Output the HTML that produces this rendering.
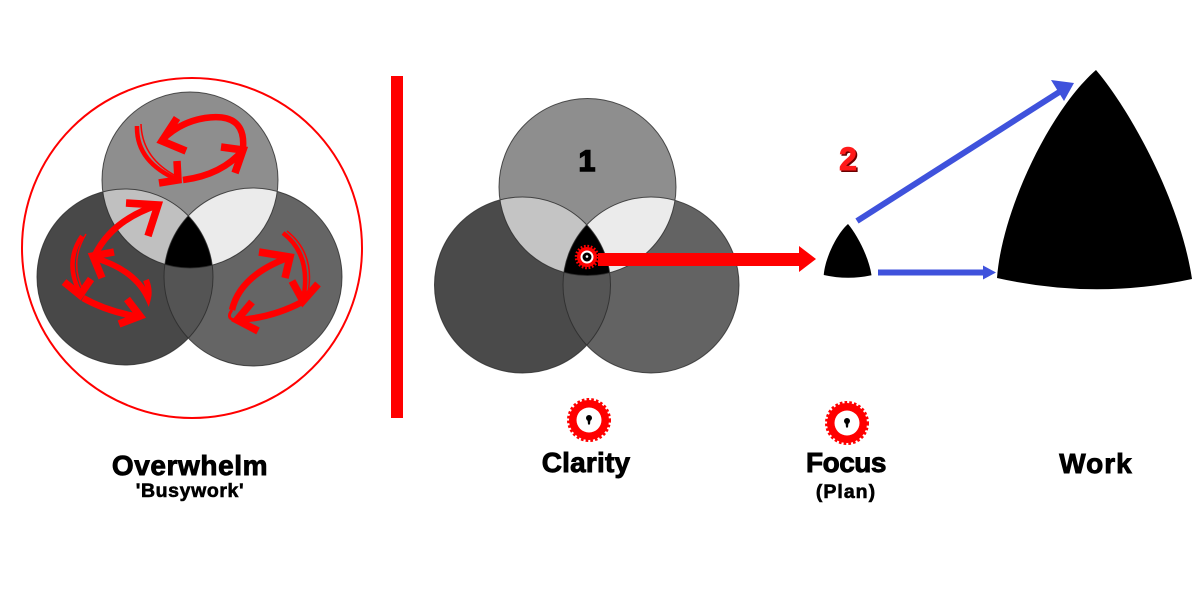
<!DOCTYPE html>
<html>
<head>
<meta charset="utf-8">
<style>
html,body{margin:0;padding:0;background:#fff;}
svg{display:block;}
text{font-family:"Liberation Sans",sans-serif;font-weight:bold;}
</style>
</head>
<body>
<svg width="1200" height="600" viewBox="0 0 1200 600" xmlns="http://www.w3.org/2000/svg">
<defs>
  <clipPath id="cT1"><circle cx="190" cy="180" r="88"/></clipPath>
  <clipPath id="cL1"><circle cx="125" cy="277" r="88"/></clipPath>
  <clipPath id="cR1"><circle cx="253" cy="277" r="89"/></clipPath>
  <clipPath id="cT2"><circle cx="587.5" cy="187" r="88.5"/></clipPath>
  <clipPath id="cL2"><circle cx="522.5" cy="285" r="88"/></clipPath>
  <clipPath id="cR2"><circle cx="651" cy="285" r="88"/></clipPath>
</defs>

<!-- LEFT: Overwhelm -->
<circle cx="192" cy="248" r="170" fill="none" stroke="#ff0000" stroke-width="2"/>
<circle cx="190" cy="180" r="88" fill="#8e8e8e"/>
<circle cx="125" cy="277" r="88" fill="#484848"/>
<circle cx="253" cy="277" r="89" fill="#656565"/>
<circle cx="125" cy="277" r="88" fill="#c0c0c0" clip-path="url(#cT1)"/>
<circle cx="253" cy="277" r="89" fill="#ebebeb" clip-path="url(#cT1)"/>
<circle cx="253" cy="277" r="89" fill="#545454" clip-path="url(#cL1)"/>
<g clip-path="url(#cL1)"><circle cx="253" cy="277" r="89" fill="#000" clip-path="url(#cT1)"/></g>
<g fill="none" stroke="#2a2a2a" stroke-width="1" opacity="0.8">
  <circle cx="190" cy="180" r="88"/>
  <circle cx="125" cy="277" r="88"/>
  <circle cx="253" cy="277" r="89"/>
</g>

<!-- red swirling arrows -->
<g fill="none" stroke="#ff0000" stroke-linecap="butt" stroke-linejoin="miter">
  <!-- top circle -->
  <path d="M243,148 Q246,112 205,118 Q180,122 162,140" stroke-width="6.5"/>
  <polyline points="177,118 162,141 186,151" stroke-width="7.5"/>
  <path d="M137,126 Q136,162 178,180" stroke-width="4.5"/>
  <path d="M141,124 Q142,158 176,176" stroke-width="1.5"/>
  <polyline points="177,161 178,180 159,183" stroke-width="7.5"/>
  <path d="M183,180 Q222,175 243,150" stroke-width="6.5"/>
  <polyline points="221,147 243,150 235,173" stroke-width="7.5"/>
  <!-- left circle -->
  <path d="M95,255 Q112,220 158,205" stroke-width="6.5"/>
  <polyline points="126,203 158,205 148,236" stroke-width="7.5"/>
  <polyline points="114,252 93,256 102,278" stroke-width="7.5"/>
  <path d="M95,258 Q135,270 148,298 Q150,290 146,280" stroke-width="6"/>
  <path d="M82,236 Q64,262 80,293" stroke-width="4.5"/>
  <path d="M86,234 Q69,262 83,290" stroke-width="1.5"/>
  <polyline points="64,282 80,295 91,279" stroke-width="7.5"/>
  <path d="M83,298 Q108,312 140,317" stroke-width="6.5"/>
  <polyline points="127,299 140,316 119,324" stroke-width="7.5"/>
  <!-- right circle -->
  <path d="M232,310 Q240,275 290,257" stroke-width="6.5"/>
  <polyline points="259,252 290,257 285,278" stroke-width="7.5"/>
  <path d="M283,233 Q312,255 303,300" stroke-width="4.5"/>
  <path d="M287,231 Q317,255 307,297" stroke-width="1.5"/>
  <polyline points="292,281 303,301 318,284" stroke-width="7.5"/>
  <path d="M302,302 Q272,318 237,320" stroke-width="6.5"/>
  <path d="M232,310 Q226,318 234,320" stroke-width="3"/>
  <polyline points="252,302 237,320 258,331" stroke-width="7.5"/>
</g>

<!-- divider -->
<rect x="391" y="76" width="12" height="342" fill="#ff0000"/>

<!-- MIDDLE: Clarity venn -->
<circle cx="587.5" cy="187" r="88.5" fill="#8e8e8e"/>
<circle cx="522.5" cy="285" r="88" fill="#4a4a4a"/>
<circle cx="651" cy="285" r="88" fill="#636363"/>
<circle cx="522.5" cy="285" r="88" fill="#c4c4c4" clip-path="url(#cT2)"/>
<circle cx="651" cy="285" r="88" fill="#ebebeb" clip-path="url(#cT2)"/>
<circle cx="651" cy="285" r="88" fill="#555555" clip-path="url(#cL2)"/>
<g clip-path="url(#cL2)"><circle cx="651" cy="285" r="88" fill="#000" clip-path="url(#cT2)"/></g>
<g fill="none" stroke="#2a2a2a" stroke-width="1" opacity="0.8">
  <circle cx="587.5" cy="187" r="88.5"/>
  <circle cx="522.5" cy="285" r="88"/>
  <circle cx="651" cy="285" r="88"/>
</g>
<text x="587" y="171" font-size="30" text-anchor="middle" fill="#000" stroke="#000" stroke-width="1.6">1</text>

<!-- red arrow -->
<rect x="598" y="253" width="202" height="13" fill="#ff0000"/>
<polygon points="799,246 816,259 799,272" fill="#ff0000"/>

<!-- small gear in triple region -->
<g transform="translate(587,257)">
  <circle r="10" fill="#ff0000"/>
  <circle r="11" fill="none" stroke="#ff0000" stroke-width="2.5" stroke-dasharray="1.73 1.73"/>
  <circle r="6.5" fill="#fff"/>
  <circle r="4.5" fill="#000"/>
  <circle r="1.3" cy="-0.5" fill="#fff"/>
</g>

<!-- 2 -->
<text x="849.5" y="171.5" font-size="32" text-anchor="middle" fill="#6a0000" stroke="#6a0000" stroke-width="1">2</text>
<text x="848" y="170" font-size="32" text-anchor="middle" fill="#ff1a1a" stroke="#ff1a1a" stroke-width="1">2</text>

<!-- small black shape -->
<path transform="translate(848,224) scale(0.245) translate(-1096,-70)" d="M997,278 C1002,210 1050,110 1096,70 C1130,110 1180,200 1192,279 Q1095,300 997,278 Z" fill="#000"/>

<!-- big black shape -->
<path d="M997,278 C1002,210 1050,110 1096,70 C1130,110 1180,200 1192,279 Q1095,300 997,278 Z" fill="#000"/>

<!-- blue arrows -->
<g fill="#3f52dc" stroke="none">
  <line x1="857" y1="221" x2="1064" y2="89" stroke="#3f52dc" stroke-width="6"/>
  <polygon points="1074,83 1051,80 1064,101"/>
  <line x1="878" y1="272.5" x2="986" y2="272.5" stroke="#3f52dc" stroke-width="6"/>
  <polygon points="996,272.5 983,265.5 983,279.5"/>
</g>

<!-- gear icons -->
<g transform="translate(589,420)">
  <circle r="20" fill="#ff0000"/>
  <circle r="20.5" fill="none" stroke="#ff0000" stroke-width="3" stroke-dasharray="2.6 2.1"/>
  <circle r="12.5" fill="#fff"/>
  <circle r="3" cy="-2" fill="#000"/>
  <polygon points="-1.5,-1 1.5,-1 1,4.5 -1,4.5" fill="#000"/>
</g>
<g transform="translate(847,423)">
  <circle r="20" fill="#ff0000"/>
  <circle r="20.5" fill="none" stroke="#ff0000" stroke-width="3" stroke-dasharray="2.6 2.1"/>
  <circle r="12.5" fill="#fff"/>
  <circle r="3" cy="-2" fill="#000"/>
  <polygon points="-1.5,-1 1.5,-1 1,4.5 -1,4.5" fill="#000"/>
</g>

<!-- labels -->
<g fill="#000" stroke="#000">
<text x="190" y="475" font-size="28" text-anchor="middle" letter-spacing="0.6" stroke-width="0.9">Overwhelm</text>
<text x="190" y="497" font-size="19.5" text-anchor="middle" letter-spacing="0.6" stroke-width="0.6">'Busywork'</text>
<text x="586" y="472" font-size="28" text-anchor="middle" letter-spacing="0.2" stroke-width="0.9">Clarity</text>
<text x="846" y="472" font-size="28" text-anchor="middle" letter-spacing="-0.5" stroke-width="0.9">Focus</text>
<text x="846" y="498" font-size="19.5" text-anchor="middle" letter-spacing="1" stroke-width="0.6">(Plan)</text>
<text x="1096" y="473" font-size="28" text-anchor="middle" letter-spacing="1" stroke-width="0.9">Work</text>
</g>
</svg>
</body>
</html>
